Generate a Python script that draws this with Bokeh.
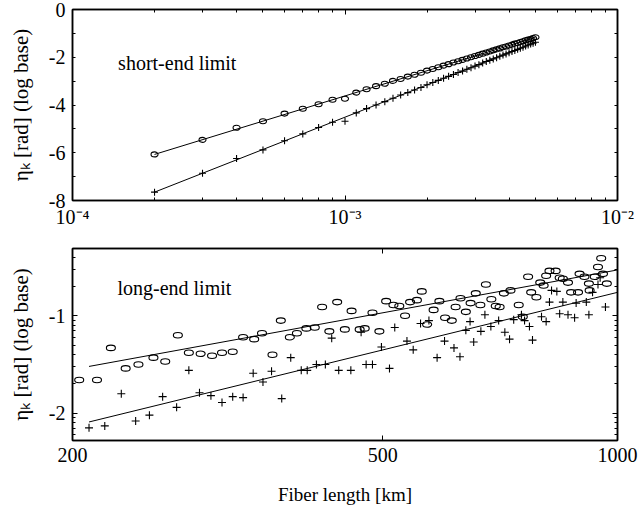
import numpy as np
from bokeh.plotting import figure
from bokeh.layouts import column
from bokeh.models import (ColumnDataSource, FixedTicker, CustomJSTickFormatter,
                          LinearAxis, LogAxis, Range1d, Label)
from bokeh.embed import file_html
from bokeh.resources import INLINE

FONT = "Liberation Serif"

# ---------------- short-end limit (top panel) ----------------
short_length_km = [0.0002, 0.0003, 0.0004, 0.0005, 0.0006, 0.0007, 0.0008, 0.0009, 0.0010,
                   0.0011, 0.0012, 0.0013, 0.0014, 0.0015, 0.0016, 0.0017, 0.0018, 0.0019,
                   0.0020, 0.0021, 0.0022, 0.0023, 0.0024, 0.0025, 0.0026, 0.0027, 0.0028,
                   0.0029, 0.0030, 0.0031, 0.0032, 0.0033, 0.0034, 0.0035, 0.0036, 0.0037,
                   0.0038, 0.0039, 0.0040, 0.0041, 0.0042, 0.0043, 0.0044, 0.0045, 0.0046,
                   0.0047, 0.0048, 0.0049, 0.0050]
short_eta_circle = [-6.07, -5.46, -4.95, -4.68, -4.36, -4.16, -3.97, -3.78, -3.74,
                    -3.48, -3.34, -3.21, -3.11, -2.99, -2.91, -2.81, -2.73, -2.65,
                    -2.56, -2.49, -2.42, -2.35, -2.29, -2.22, -2.17, -2.11, -2.05,
                    -2.00, -1.95, -1.90, -1.85, -1.80, -1.76, -1.71, -1.67, -1.63,
                    -1.58, -1.55, -1.51, -1.47, -1.43, -1.40, -1.36, -1.33, -1.29,
                    -1.26, -1.24, -1.20, -1.16]
short_eta_plus = [-7.65, -6.86, -6.24, -5.88, -5.50, -5.21, -4.94, -4.72, -4.68,
                  -4.33, -4.15, -4.00, -3.86, -3.72, -3.58, -3.48, -3.37, -3.27,
                  -3.15, -3.06, -2.97, -2.88, -2.80, -2.72, -2.64, -2.58, -2.50,
                  -2.44, -2.37, -2.31, -2.24, -2.18, -2.13, -2.07, -2.02, -1.96,
                  -1.91, -1.86, -1.81, -1.76, -1.72, -1.67, -1.62, -1.58, -1.53,
                  -1.49, -1.45, -1.41, -1.37]
short_fit_x = [0.0002, 0.005]
short_fit_circle = [-6.07, -1.17]
short_fit_plus = [-7.65, -1.37]

short_x_ticks = [1e-4, 1e-3, 1e-2]
short_x_minor = [2e-4, 3e-4, 4e-4, 5e-4, 6e-4, 7e-4, 8e-4, 9e-4,
                 2e-3, 3e-3, 4e-3, 5e-3, 6e-3, 7e-3, 8e-3, 9e-3]
short_y_ticks = [-8, -6, -4, -2, 0]
short_y_minor = [-7, -5, -3, -1]

# ---------------- long-end limit (bottom panel) ----------------
long_circle_km = [204, 215, 224, 234, 243, 254, 263, 273, 282, 292, 302, 311, 321, 331,
                  342, 350, 361, 370, 380, 388, 399, 409, 418, 427, 437, 447, 456,
                  467, 474, 485, 495, 505, 516, 525, 534, 542, 553, 561, 570, 581, 591,
                  601, 613, 620, 629, 639, 648, 658, 667, 678, 689, 698, 706, 715, 729,
                  747, 756, 768, 775, 787, 796, 804, 810, 818, 833, 843, 851, 864, 872,
                  890, 894, 907, 919, 921, 935, 944, 953, 958, 969]
long_circle_log = [-1.66, -1.66, -1.33, -1.54, -1.50, -1.43, -1.47, -1.20, -1.38, -1.39,
                   -1.41, -1.38, -1.37, -1.22, -1.24, -1.18, -1.40, -1.05, -1.22, -1.18,
                   -1.13, -1.12, -0.91, -1.16, -0.86, -1.14, -0.95,
                   -1.14, -1.13, -0.97, -1.16, -0.85, -0.89, -0.90, -1.00, -0.86, -0.84,
                   -0.75, -1.09, -0.94, -0.85, -1.02, -1.05, -0.91, -0.82, -0.96, -0.87,
                   -0.77, -0.89, -0.68, -0.83, -0.90, -0.91, -0.77, -0.74, -0.89, -1.01,
                   -0.60, -0.76, -0.81, -0.66, -0.69, -0.59, -0.54, -0.54, -0.61, -0.62,
                   -0.66, -0.76, -0.76, -0.57, -0.60, -0.67, -0.74, -0.60, -0.50, -0.41,
                   -0.57, -0.67]
long_plus_km = [210, 220, 231, 241, 251, 261, 272, 282, 291, 301, 311, 321, 331, 341,
                351, 360, 371, 381, 393, 400, 411, 422, 430, 439, 455, 469, 476, 485,
                498, 510, 518, 537, 547, 559, 573, 587, 600, 617, 628, 639, 647, 654,
                668, 676, 688, 704, 717, 727, 736, 753, 760, 771, 778, 799, 810, 818,
                823, 836, 843, 851, 864, 881, 885, 912, 919, 929, 944, 950, 965]
long_plus_log = [-2.15, -2.13, -1.80, -2.08, -2.02, -1.83, -1.94, -1.56, -1.79, -1.82,
                 -1.89, -1.83, -1.84, -1.59, -1.68, -1.57, -1.85, -1.43, -1.56, -1.56,
                 -1.50, -1.50, -1.23, -1.56, -1.56, -1.17, -1.50, -1.50, -1.32, -1.54,
                 -1.12, -1.26, -1.35, -1.08, -1.05, -1.43, -1.26, -1.33, -1.42, -1.15,
                 -1.06, -1.27, -1.16, -0.99, -1.11, -1.05, -1.17, -1.24, -1.04, -0.99,
                 -1.05, -1.11, -1.25, -1.01, -1.06, -0.86, -0.74, -0.75, -0.98, -0.86,
                 -0.99, -1.02, -0.87, -0.86, -0.99, -0.76, -0.68, -0.61, -0.91]
long_fit_x = [210, 1000]
long_fit_circle = [-1.52, -0.53]
long_fit_plus = [-2.09, -0.76]

long_x_ticks = [200, 500, 1000]
long_y_ticks = [0.01, 0.1]
long_y_minor = [0.006, 0.007, 0.008, 0.009, 0.02, 0.03, 0.04, 0.05, 0.06, 0.07, 0.08,
                0.09, 0.2, 0.3, 0.4]

YLABEL = "\u03b7\u2096 [rad] (log base)"
XLABEL = "Fiber length [km]"


def style_axis(ax, major_in=5, minor_in=3):
    ax.major_tick_in = major_in
    ax.major_tick_out = 0
    ax.minor_tick_in = minor_in
    ax.minor_tick_out = 0
    ax.axis_line_color = "black"
    ax.axis_line_width = 1.5
    ax.major_tick_line_color = "black"
    ax.minor_tick_line_color = "black"
    ax.major_label_text_font = FONT
    ax.major_label_text_font_size = "20px"
    ax.major_label_text_color = "black"
    ax.axis_label_text_font = FONT
    ax.axis_label_text_font_style = "normal"
    ax.axis_label_text_color = "black"


blank_formatter = CustomJSTickFormatter(code="return '.';")


def hide_labels(ax):
    ax.formatter = blank_formatter
    ax.major_label_text_font_size = "2px"
    ax.major_label_text_alpha = 0
    ax.major_label_standoff = 0


def base_style(p):
    p.grid.visible = False
    p.outline_line_color = "black"
    p.outline_line_width = 1.5
    p.background_fill_color = "white"
    p.border_fill_color = "white"


sup_formatter = CustomJSTickFormatter(code="""
const e = Math.round(Math.log10(tick));
const m = {'-': '\u207b', '0': '\u2070', '1': '\u00b9', '2': '\u00b2', '3': '\u00b3',
           '4': '\u2074', '5': '\u2075', '6': '\u2076'};
let s = '';
for (const c of String(e)) { s += m[c]; }
return '10' + s;
""")
exp_formatter = CustomJSTickFormatter(code="return String(Math.round(Math.log10(tick)));")
plain_formatter = CustomJSTickFormatter(code="return String(Math.round(tick));")

# ---------------- top figure ----------------
p1 = figure(width=638, height=232, x_axis_type="log",
            x_range=Range1d(1e-4, 1e-2), y_range=Range1d(-8, 0),
            output_backend="svg", toolbar_location=None,
            min_border_left=72, min_border_right=21, min_border_top=9, min_border_bottom=32)
base_style(p1)

sx_ticker = FixedTicker(ticks=short_x_ticks, minor_ticks=short_x_minor)
sy_ticker = FixedTicker(ticks=short_y_ticks, minor_ticks=short_y_minor)
p1.xaxis.ticker = sx_ticker
p1.xaxis.formatter = sup_formatter
p1.yaxis.ticker = sy_ticker
p1.yaxis.formatter = plain_formatter
for ax in p1.xaxis + p1.yaxis:
    style_axis(ax, 5, 3)
p1.yaxis.minor_tick_in = 3
p1.yaxis.major_tick_in = 3
p1.yaxis.axis_label = YLABEL
p1.yaxis.axis_label_text_font_size = "21px"
p1.yaxis.major_label_standoff = 7
p1.yaxis.axis_label_standoff = 13
p1.xaxis.major_label_standoff = 5

r_ax = LinearAxis(ticker=sy_ticker)
style_axis(r_ax, 3, 3)
hide_labels(r_ax)
p1.add_layout(r_ax, "right")
t_ax = LogAxis(ticker=sx_ticker)
style_axis(t_ax, 5, 3)
hide_labels(t_ax)
p1.add_layout(t_ax, "above")

src_sc = ColumnDataSource(dict(x=short_length_km, y=short_eta_circle))
src_sp = ColumnDataSource(dict(x=short_length_km, y=short_eta_plus))
p1.line(short_fit_x, short_fit_circle, line_color="black", line_width=1)
p1.line(short_fit_x, short_fit_plus, line_color="black", line_width=1)
p1.ellipse(x="x", y="y", width=7, height=5, width_units="screen", height_units="screen",
           fill_color=None, line_color="black", line_width=1.1, source=src_sc)
p1.scatter(x="x", y="y", marker="cross", size=7, line_color="black", line_width=1.1,
           source=src_sp)
p1.add_layout(Label(x=1.47e-4, y=-2.26, text="short-end limit", text_font=FONT,
                    text_font_size="20px", text_color="black", text_baseline="alphabetic"))

# ---------------- bottom figure ----------------
p2 = figure(width=638, height=280, x_axis_type="log", y_axis_type="log",
            x_range=Range1d(200, 1000), y_range=Range1d(10 ** -2.28, 10 ** -0.31),
            output_backend="svg", toolbar_location=None,
            min_border_left=72, min_border_right=20, min_border_top=16, min_border_bottom=72)
base_style(p2)

lx_ticker = FixedTicker(ticks=long_x_ticks, minor_ticks=[])
ly_ticker = FixedTicker(ticks=long_y_ticks, minor_ticks=long_y_minor)
p2.xaxis.ticker = lx_ticker
p2.yaxis.ticker = ly_ticker
p2.yaxis.formatter = exp_formatter
for ax in p2.xaxis + p2.yaxis:
    style_axis(ax, 5, 3)
p2.yaxis.axis_label = YLABEL
p2.yaxis.axis_label_text_font_size = "21px"
p2.yaxis.major_label_standoff = 7
p2.yaxis.axis_label_standoff = 13
p2.xaxis.axis_label = XLABEL
p2.xaxis.axis_label_text_font_size = "19px"
p2.xaxis.major_label_standoff = 7
p2.xaxis.axis_label_standoff = 19

r2 = LogAxis(ticker=ly_ticker)
style_axis(r2, 5, 3)
hide_labels(r2)
p2.add_layout(r2, "right")
t2 = LogAxis(ticker=lx_ticker)
style_axis(t2, 5, 3)
hide_labels(t2)
p2.add_layout(t2, "above")

src_lc = ColumnDataSource(dict(x=long_circle_km, y=10 ** np.array(long_circle_log)))
src_lp = ColumnDataSource(dict(x=long_plus_km, y=10 ** np.array(long_plus_log)))
p2.line(long_fit_x, 10 ** np.array(long_fit_circle), line_color="black", line_width=1)
p2.line(long_fit_x, 10 ** np.array(long_fit_plus), line_color="black", line_width=1)
p2.ellipse(x="x", y="y", width=9, height=5.5, width_units="screen", height_units="screen",
           fill_color=None, line_color="black", line_width=1.1, source=src_lc)
p2.scatter(x="x", y="y", marker="cross", size=8, line_color="black", line_width=1.1,
           source=src_lp)
p2.add_layout(Label(x=228.4, y=10 ** -0.713, text="long-end limit", text_font=FONT,
                    text_font_size="20px", text_color="black", text_baseline="alphabetic"))

layout = column(p1, p2, spacing=0)
open("out.html", "w").write(file_html(layout, INLINE))
